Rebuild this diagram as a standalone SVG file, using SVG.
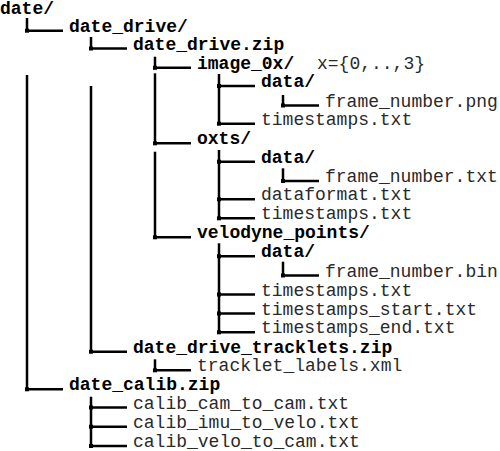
<svg xmlns="http://www.w3.org/2000/svg" width="500" height="451" viewBox="0 0 500 451">
<style>
text{font-family:"Liberation Mono","Courier New",monospace;font-size:18px;fill:#000}
.d{font-weight:bold}
.f{fill:#2a2a2a}
.c line{stroke:#000;stroke-width:2.5}
.c rect{fill:#000}
</style>
<rect width="500" height="451" fill="#fff"/>
<g class="c" id="connectors">
<line x1="27" y1="18" x2="27" y2="31"/>
<line x1="27" y1="75" x2="27" y2="389.3"/>
<line x1="91" y1="37" x2="91" y2="48.5"/>
<line x1="91" y1="86" x2="91" y2="351.7"/>
<line x1="91" y1="396.7" x2="91" y2="446"/>
<line x1="155" y1="56.7" x2="155" y2="67.8"/>
<line x1="155" y1="73.3" x2="155" y2="143.3"/>
<line x1="155" y1="151.7" x2="155" y2="237.3"/>
<line x1="155" y1="359.3" x2="155" y2="370.3"/>
<line x1="219" y1="74" x2="219" y2="123.7"/>
<line x1="219" y1="150" x2="219" y2="218.3"/>
<line x1="219" y1="243.3" x2="219" y2="332.3"/>
<line x1="283" y1="95" x2="283" y2="105.5"/>
<line x1="283" y1="168.3" x2="283" y2="181"/>
<line x1="283" y1="261.7" x2="283" y2="275.5"/>
<line x1="27" y1="30.7" x2="63" y2="30.7"/>
<line x1="91" y1="48.5" x2="127" y2="48.5"/>
<line x1="155" y1="67.8" x2="191" y2="67.8"/>
<line x1="219" y1="86" x2="255" y2="86"/>
<line x1="283" y1="105.5" x2="319" y2="105.5"/>
<line x1="219" y1="123.7" x2="255" y2="123.7"/>
<line x1="155" y1="143.3" x2="191" y2="143.3"/>
<line x1="219" y1="161.7" x2="255" y2="161.7"/>
<line x1="283" y1="181" x2="319" y2="181"/>
<line x1="219" y1="199.3" x2="255" y2="199.3"/>
<line x1="219" y1="218.3" x2="255" y2="218.3"/>
<line x1="155" y1="237.3" x2="191" y2="237.3"/>
<line x1="219" y1="256.3" x2="255" y2="256.3"/>
<line x1="283" y1="275.5" x2="319" y2="275.5"/>
<line x1="219" y1="294.5" x2="255" y2="294.5"/>
<line x1="219" y1="313.5" x2="255" y2="313.5"/>
<line x1="219" y1="332.3" x2="255" y2="332.3"/>
<line x1="91" y1="351.7" x2="127" y2="351.7"/>
<line x1="155" y1="370.3" x2="191" y2="370.3"/>
<line x1="27" y1="389.3" x2="63" y2="389.3"/>
<line x1="91" y1="407.5" x2="127" y2="407.5"/>
<line x1="91" y1="426.7" x2="127" y2="426.7"/>
<line x1="91" y1="446" x2="127" y2="446"/>
<rect x="25" y="28.7" width="4" height="4"/>
<rect x="89" y="46.5" width="4" height="4"/>
<rect x="153" y="65.8" width="4" height="4"/>
<rect x="217" y="84" width="4" height="4"/>
<rect x="281" y="103.5" width="4" height="4"/>
<rect x="217" y="121.7" width="4" height="4"/>
<rect x="153" y="141.3" width="4" height="4"/>
<rect x="217" y="159.7" width="4" height="4"/>
<rect x="281" y="179" width="4" height="4"/>
<rect x="217" y="197.3" width="4" height="4"/>
<rect x="217" y="216.3" width="4" height="4"/>
<rect x="153" y="235.3" width="4" height="4"/>
<rect x="217" y="254.3" width="4" height="4"/>
<rect x="281" y="273.5" width="4" height="4"/>
<rect x="217" y="292.5" width="4" height="4"/>
<rect x="217" y="311.5" width="4" height="4"/>
<rect x="217" y="330.3" width="4" height="4"/>
<rect x="89" y="349.7" width="4" height="4"/>
<rect x="153" y="368.3" width="4" height="4"/>
<rect x="25" y="387.3" width="4" height="4"/>
<rect x="89" y="405.5" width="4" height="4"/>
<rect x="89" y="424.7" width="4" height="4"/>
<rect x="89" y="444" width="4" height="4"/>
</g>
<g id="n-date"><text class="d" x="0" y="13.5">date/</text></g>
<g id="n-date-drive"><text class="d" x="69" y="31.7">date_drive/</text></g>
<g id="n-drive-zip"><text class="d" x="133" y="49.5">date_drive.zip</text></g>
<g id="n-image"><text class="d" x="197" y="68.8">image_0x/</text><text class="f" x="317" y="68.8">x={0,..,3}</text></g>
<g id="n-image-data"><text class="d" x="261" y="87">data/</text></g>
<g id="n-image-frame"><text class="f" x="325" y="106.5">frame_number.png</text></g>
<g id="n-image-ts"><text class="f" x="261" y="124.7">timestamps.txt</text></g>
<g id="n-oxts"><text class="d" x="197" y="144.3">oxts/</text></g>
<g id="n-oxts-data"><text class="d" x="261" y="162.7">data/</text></g>
<g id="n-oxts-frame"><text class="f" x="325" y="182">frame_number.txt</text></g>
<g id="n-oxts-format"><text class="f" x="261" y="200.3">dataformat.txt</text></g>
<g id="n-oxts-ts"><text class="f" x="261" y="219.3">timestamps.txt</text></g>
<g id="n-velo"><text class="d" x="197" y="238.3">velodyne_points/</text></g>
<g id="n-velo-data"><text class="d" x="261" y="257.3">data/</text></g>
<g id="n-velo-frame"><text class="f" x="325" y="276.5">frame_number.bin</text></g>
<g id="n-velo-ts"><text class="f" x="261" y="295.5">timestamps.txt</text></g>
<g id="n-velo-ts-start"><text class="f" x="261" y="314.5">timestamps_start.txt</text></g>
<g id="n-velo-ts-end"><text class="f" x="261" y="333.3">timestamps_end.txt</text></g>
<g id="n-tracklets"><text class="d" x="133" y="352.7">date_drive_tracklets.zip</text></g>
<g id="n-tracklet-labels"><text class="f" x="197" y="371.3">tracklet_labels.xml</text></g>
<g id="n-calib"><text class="d" x="69" y="390.3">date_calib.zip</text></g>
<g id="n-calib-cam"><text class="f" x="133" y="408.5">calib_cam_to_cam.txt</text></g>
<g id="n-calib-imu"><text class="f" x="133" y="427.7">calib_imu_to_velo.txt</text></g>
<g id="n-calib-velo"><text class="f" x="133" y="447">calib_velo_to_cam.txt</text></g>
</svg>
